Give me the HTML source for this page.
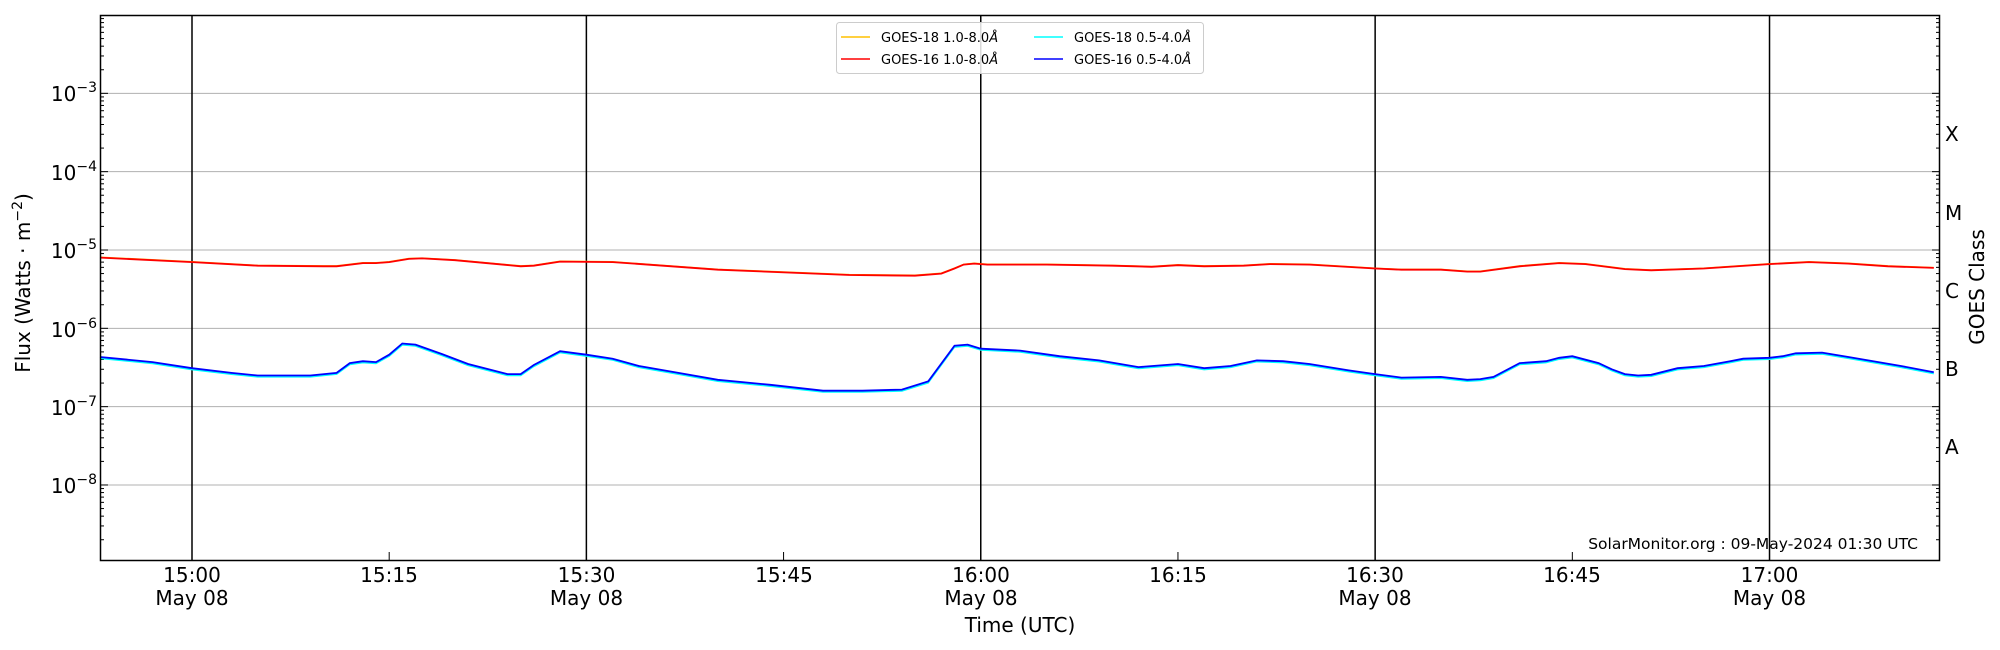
<!DOCTYPE html>
<html><head><meta charset="utf-8"><style>
html,body{margin:0;padding:0;background:#fff;}
svg{display:block;font-family:"DejaVu Sans","Liberation Sans",sans-serif;}
</style></head><body>
<svg id="s" width="2000" height="650" viewBox="0 0 2000 650" xmlns="http://www.w3.org/2000/svg">
<rect width="2000" height="650" fill="#fff"/>
<g id="grid" stroke="#b0b0b0" stroke-width="1"></g>
<g id="vl" stroke="#000" stroke-width="1.5"></g>
<g id="ticks" stroke="#000" stroke-width="1"></g>
<path id="c18" fill="none" stroke="#00ffff" stroke-width="1.5"/>
<path id="c16" fill="none" stroke="#0000ff" stroke-width="1.8"/>
<path id="r18" fill="none" stroke="#ffb000" stroke-width="1.5"/>
<path id="r16" fill="none" stroke="#ff0000" stroke-width="1.8"/>
<rect x="100.5" y="15.5" width="1839" height="545" fill="none" stroke="#000" stroke-width="1.5"/>
<g font-size="20" fill="#000" text-anchor="end">
<text x="97" y="101">10<tspan font-size="14" dy="-9">−3</tspan></text>
<text x="97" y="180">10<tspan font-size="14" dy="-9">−4</tspan></text>
<text x="97" y="258">10<tspan font-size="14" dy="-9">−5</tspan></text>
<text x="97" y="337">10<tspan font-size="14" dy="-9">−6</tspan></text>
<text x="97" y="415">10<tspan font-size="14" dy="-9">−7</tspan></text>
<text x="97" y="493">10<tspan font-size="14" dy="-9">−8</tspan></text>
</g>
<g font-size="20" fill="#000" text-anchor="start">
<text x="1945" y="141">X</text><text x="1945" y="220">M</text><text x="1945" y="298">C</text>
<text x="1945" y="376">B</text><text x="1945" y="454">A</text>
</g>
<text transform="translate(1984,287) rotate(-90)" font-size="20" text-anchor="middle">GOES Class</text>
<text transform="translate(30,283) rotate(-90)" font-size="20" text-anchor="middle">Flux (Watts · m<tspan font-size="14" dy="-8">−2</tspan><tspan dy="8">)</tspan></text>
<g font-size="20" text-anchor="middle" fill="#000">
<text x="192" y="582">15:00</text><text x="192" y="605">May 08</text>
<text x="389" y="582">15:15</text>
<text x="586.5" y="582">15:30</text><text x="586.5" y="605">May 08</text>
<text x="784" y="582">15:45</text>
<text x="981" y="582">16:00</text><text x="981" y="605">May 08</text>
<text x="1178" y="582">16:15</text>
<text x="1375" y="582">16:30</text><text x="1375" y="605">May 08</text>
<text x="1572" y="582">16:45</text>
<text x="1769.5" y="582">17:00</text><text x="1769.5" y="605">May 08</text>
<text x="1020" y="632">Time (UTC)</text>
</g>
<text x="1918" y="549" font-size="15.5" text-anchor="end">SolarMonitor.org : 09-May-2024 01:30 UTC</text>
<g>
<rect x="836.5" y="22.5" width="367" height="51" rx="3" fill="#fff" fill-opacity="0.85" stroke="#ccc"/>
<line x1="841" y1="37" x2="870" y2="37" stroke="#ffc000" stroke-width="1.5"/>
<line x1="841" y1="59" x2="870" y2="59" stroke="#ff0000" stroke-width="1.5"/>
<line x1="1034" y1="37" x2="1063" y2="37" stroke="#00ffff" stroke-width="1.5"/>
<line x1="1034" y1="59" x2="1063" y2="59" stroke="#0000ff" stroke-width="1.5"/>
<g font-size="13" fill="#000">
<text x="881" y="42">GOES-18 1.0-8.0<tspan font-style="italic">Å</tspan></text>
<text x="881" y="64">GOES-16 1.0-8.0<tspan font-style="italic">Å</tspan></text>
<text x="1074" y="42">GOES-18 0.5-4.0<tspan font-style="italic">Å</tspan></text>
<text x="1074" y="64">GOES-16 0.5-4.0<tspan font-style="italic">Å</tspan></text>
</g></g>
<script>
(function(){
var NS="http://www.w3.org/2000/svg";
function y(v){return 15+(-2-Math.log10(v))*78.33;}
function x(m){return 192+(m-900)*13.146;}
function el(g,a){var e=document.createElementNS(NS,"line");for(var k in a)e.setAttribute(k,a[k]);document.getElementById(g).appendChild(e);}
for(var d=-3;d>=-8;d--){var yy=y(Math.pow(10,d));el("grid",{x1:100,x2:1940,y1:yy,y2:yy});}
[900,930,960,990,1020].forEach(function(m){el("vl",{x1:x(m),x2:x(m),y1:15.5,y2:560.5});});
for(var d=-9;d<=-2;d++)for(var k=1;k<10;k++){var v=k*Math.pow(10,d);var yy=y(v);if(yy<15.5||yy>560.5)continue;var L=k==1?8:4;
el("ticks",{x1:100,x2:100+L,y1:yy,y2:yy});el("ticks",{x1:1940,x2:1940-L,y1:yy,y2:yy});}
[915,945,975,1005].forEach(function(m){el("ticks",{x1:x(m),x2:x(m),y1:560.5,y2:552});});
var R=[[893,8e-6],[900,7e-6],[905,6.3e-6],[910,6.2e-6],[911,6.2e-6],[913,6.8e-6],[914,6.8e-6],[915,7e-6],[916.5,7.7e-6],[917.5,7.8e-6],[920,7.4e-6],[925,6.2e-6],[926,6.3e-6],[928,7.1e-6],[932,7e-6],[940,5.6e-6],[950,4.8e-6],[955,4.7e-6],[957,5e-6],[958,5.8e-6],[958.7,6.5e-6],[959.5,6.7e-6],[960.5,6.5e-6],[965,6.5e-6],[970,6.3e-6],[973,6.1e-6],[975,6.4e-6],[977,6.2e-6],[980,6.3e-6],[982,6.6e-6],[985,6.5e-6],[990,5.8e-6],[992,5.6e-6],[995,5.6e-6],[997,5.3e-6],[998,5.3e-6],[1001,6.2e-6],[1004,6.8e-6],[1006,6.6e-6],[1009,5.7e-6],[1011,5.5e-6],[1015,5.8e-6],[1020,6.6e-6],[1023,7e-6],[1026,6.7e-6],[1029,6.2e-6],[1032.5,5.9e-6]];
var B=[[893,4.3e-7],[897,3.7e-7],[900,3.1e-7],[903,2.7e-7],[905,2.5e-7],[909,2.5e-7],[911,2.7e-7],[912,3.6e-7],[913,3.8e-7],[914,3.7e-7],[915,4.6e-7],[916,6.4e-7],[917,6.2e-7],[919,4.7e-7],[921,3.5e-7],[924,2.6e-7],[925,2.6e-7],[926,3.4e-7],[928,5.1e-7],[930,4.6e-7],[932,4.1e-7],[934,3.3e-7],[937,2.7e-7],[940,2.2e-7],[944,1.9e-7],[948,1.6e-7],[951,1.6e-7],[954,1.65e-7],[956,2.1e-7],[958,6e-7],[959,6.2e-7],[960,5.5e-7],[963,5.2e-7],[966,4.4e-7],[969,3.9e-7],[972,3.2e-7],[975,3.5e-7],[977,3.1e-7],[979,3.3e-7],[981,3.9e-7],[983,3.8e-7],[985,3.5e-7],[988,2.9e-7],[990,2.6e-7],[992,2.35e-7],[995,2.4e-7],[997,2.2e-7],[998,2.25e-7],[999,2.4e-7],[1001,3.6e-7],[1003,3.8e-7],[1004,4.2e-7],[1005,4.4e-7],[1007,3.6e-7],[1008,3e-7],[1009,2.6e-7],[1010,2.5e-7],[1011,2.55e-7],[1013,3.1e-7],[1015,3.3e-7],[1017,3.8e-7],[1018,4.1e-7],[1020,4.2e-7],[1021,4.4e-7],[1022,4.8e-7],[1024,4.9e-7],[1026,4.3e-7],[1030,3.3e-7],[1032.5,2.75e-7]];
function p(a,f){return a.map(function(q,i){return (i?"L":"M")+x(q[0]).toFixed(1)+" "+(y(q[1]*f)).toFixed(1);}).join("");}
document.getElementById("r16").setAttribute("d",p(R,1));
document.getElementById("r18").setAttribute("d",p(R,1.01));
document.getElementById("c16").setAttribute("d",p(B,1));
document.getElementById("c18").setAttribute("d",p(B,0.96));
})();
</script>
</svg>
</body></html>
